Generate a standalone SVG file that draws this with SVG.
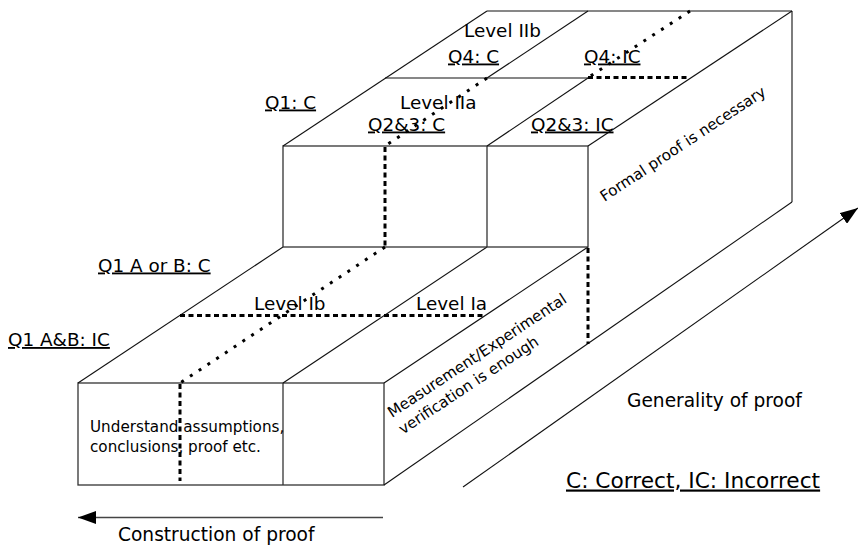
<svg xmlns="http://www.w3.org/2000/svg" width="858" height="545" viewBox="0 0 858 545">
<defs>
<style>
.ln{stroke:#111;stroke-width:1.1;fill:none}
.fr{stroke:#333;stroke-width:1.3;fill:none}
.dash{stroke:#000;stroke-width:3;stroke-dasharray:5 3.5;fill:none}
.dot{stroke:#000;stroke-width:3;stroke-dasharray:3 7.5;fill:none}
.t{font-family:"DejaVu Sans","Liberation Sans",sans-serif;font-size:18.4px;fill:#000}
.u{text-decoration:underline}
.s{font-family:"DejaVu Sans","Liberation Sans",sans-serif;font-size:15.2px;fill:#000}
</style>
<marker id="ah" viewBox="0 0 18 13" refX="18" refY="6.5" markerWidth="18" markerHeight="13" markerUnits="userSpaceOnUse" orient="auto">
<path d="M0,0 L18,6.5 L0,13 z" fill="#000"/>
</marker>
</defs>
<rect width="858" height="545" fill="#fff"/>

<g id="lower-box">
<rect class="fr" x="78" y="383" width="306" height="102"/>
<line class="fr" x1="283" y1="383" x2="283" y2="485"/>
<line class="ln" x1="78" y1="383" x2="283" y2="247"/>
<line class="ln" x1="283" y1="383" x2="487" y2="247"/>
<line class="ln" x1="384" y1="383" x2="588" y2="247"/>
</g>

<g id="upper-box">
<rect class="fr" x="283" y="146" width="305" height="101"/>
<line class="fr" x1="487" y1="146" x2="487" y2="247"/>
<line class="ln" x1="283" y1="146" x2="487" y2="11"/>
<line class="ln" x1="385" y1="78" x2="588" y2="78"/>
<line class="ln" x1="487" y1="146" x2="588" y2="78"/>
<line class="ln" x1="487" y1="78" x2="588" y2="11"/>
<line class="ln" x1="588" y1="146" x2="792" y2="11"/>
<line class="ln" x1="487" y1="11" x2="792" y2="11"/>
<line class="ln" x1="792" y1="11" x2="792" y2="202"/>
<line class="ln" x1="384" y1="485" x2="792" y2="202"/>
</g>

<g id="connectors">
<line class="dash" x1="180" y1="315.5" x2="485" y2="315.5"/>
<line class="dash" x1="588" y1="77.5" x2="687" y2="77.5"/>
<line class="dash" x1="385" y1="147" x2="385" y2="247"/>
<line class="dash" x1="588" y1="248" x2="588" y2="344"/>
<line class="dash" x1="180" y1="384" x2="180" y2="481"/>
<line class="dot" x1="690" y1="11" x2="589" y2="77"/>
<line class="dot" x1="487" y1="78" x2="385" y2="146"/>
<line class="dot" x1="385" y1="247" x2="180" y2="383"/>
<line stroke="#444" stroke-width="1.3" x1="383" y1="517.5" x2="78" y2="517.5" marker-end="url(#ah)"/>
<line stroke="#111" stroke-width="1.1" x1="463" y1="487" x2="858" y2="208" marker-end="url(#ah)"/>
</g>

<g id="labels">
<text class="t" x="464" y="37">Level IIb</text>
<text class="t u" x="448" y="62.5">Q4: C</text>
<text class="t u" x="584" y="62.5">Q4: IC</text>
<text class="t u" x="265" y="108.5">Q1: C</text>
<text class="t" x="400" y="109">Level IIa</text>
<text class="t u" x="368" y="130.5">Q2&amp;3: C</text>
<text class="t u" x="531" y="130.5">Q2&amp;3: IC</text>
<text class="t u" x="98" y="271.5">Q1 A or B: C</text>
<text class="t u" x="8" y="346">Q1 A&amp;B: IC</text>
<text class="t" x="254" y="310">Level Ib</text>
<text class="t" x="416" y="310">Level Ia</text>
<text class="s" x="90" y="431.5">Understand assumptions,</text>
<text class="s" x="90" y="451.5">conclusions, proof etc.</text>
<text class="s" transform="translate(604.5,202) rotate(-33.5)">Formal proof is necessary</text>
<text class="s" transform="translate(392,418) rotate(-33.5)"><tspan x="0" y="0">Measurement/Experimental</tspan><tspan x="0" y="20">verification is enough</tspan></text>
<text class="t" style="font-size:18.6px" x="627" y="406.5">Generality of proof</text>
<text class="t u" style="font-size:21.7px" x="566" y="487.5">C: Correct, IC: Incorrect</text>
<text class="t" style="font-size:18.6px" x="118" y="541">Construction of proof</text>
</g>
</svg>
